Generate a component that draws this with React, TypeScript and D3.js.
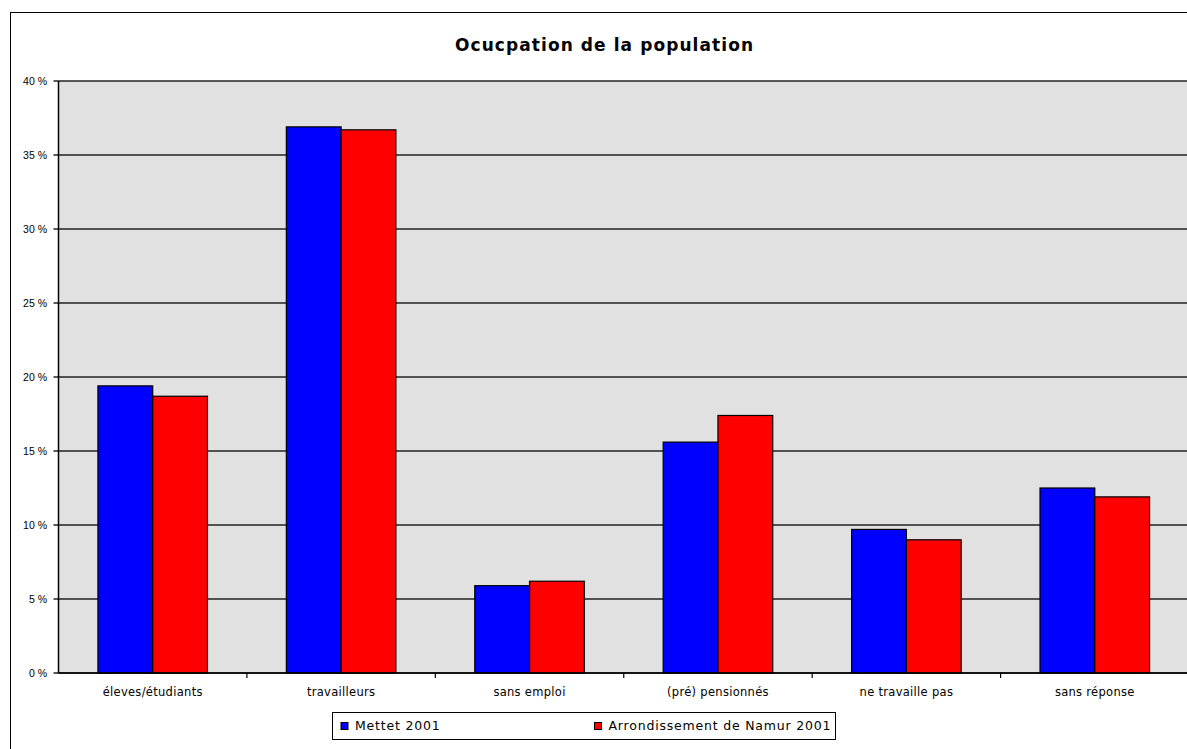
import React from 'react'
import * as d3 from 'd3'

const categories = ['éleves/étudiants', 'travailleurs', 'sans emploi', '(pré) pensionnés', 'ne travaille pas', 'sans réponse']
const seriesNames = ['Mettet 2001', 'Arrondissement de Namur 2001']
const mettet = [19.4, 36.9, 5.9, 15.6, 9.7, 12.5]
const namur = [18.7, 36.7, 6.2, 17.4, 9.0, 11.9]
const yTicks = [0, 5, 10, 15, 20, 25, 30, 35, 40]
const colors = ['#0000ff', '#ff0000']

const W = 1187
const H = 749
const plot = { left: 58.5, top: 81, bottom: 673, right: 1189 }

const App = () => {
    const series = [mettet, namur]

    const x = d3.scaleBand<string>()
        .domain(categories)
        .range([plot.left, plot.right])
        .paddingInner(0)
        .paddingOuter(0)

    const x1 = d3.scaleBand<string>()
        .domain(seriesNames)
        .range([0, x.bandwidth()])
        .paddingInner(0)
        .paddingOuter(0.72)

    const y = d3.scaleLinear()
        .domain([0, 40])
        .range([plot.bottom, plot.top])

    const font = 'DejaVu Sans, Verdana, sans-serif'

    return (
        <svg width={W} height={H} style={{ position: 'absolute', left: 0, top: 0, display: 'block' }}>
            <rect x={0} y={0} width={W} height={H} fill='#fff' />
            {/* outer chart border */}
            <rect x={10.5} y={12.5} width={W + 10} height={H + 10} fill='none' stroke='#000' strokeWidth={1} />

            <text x={604} y={51} textAnchor='middle' fontFamily={font} fontWeight='bold' fontSize={17}
                textLength={298} lengthAdjust='spacing'>
                Ocucpation de la population
            </text>

            {/* plot area */}
            <rect x={plot.left} y={plot.top} width={plot.right - plot.left} height={plot.bottom - plot.top} fill='#e1e1e1' />

            {/* grid + y ticks */}
            {yTicks.map(t => (
                <g key={t}>
                    <line x1={plot.left - 5} x2={plot.right} y1={y(t)} y2={y(t)} stroke='#222' strokeWidth={1.5} />
                    <text x={47} y={y(t)} dy='0.35em' textAnchor='end' fontFamily='Liberation Sans, Arial, sans-serif' fontSize={10.5}>
                        {t} %
                    </text>
                </g>
            ))}

            {/* bars */}
            {categories.map((c, i) => (
                <g key={c} transform={`translate(${x(c)}, 0)`}>
                    {seriesNames.map((s, j) => (
                        <rect
                            key={s}
                            x={x1(s)}
                            y={y(series[j][i])}
                            width={x1.bandwidth()}
                            height={y(0) - y(series[j][i])}
                            fill={colors[j]}
                            stroke='#000'
                            strokeWidth={1.2}
                        />
                    ))}
                </g>
            ))}

            {/* axes lines */}
            <line x1={plot.left} x2={plot.left} y1={plot.top} y2={plot.bottom} stroke='#000' strokeWidth={1.5} />
            <line x1={plot.left} x2={plot.right} y1={plot.bottom} y2={plot.bottom} stroke='#000' strokeWidth={1.5} />
            {categories.slice(1).map(c => (
                <line key={c} x1={x(c)} x2={x(c)} y1={plot.bottom} y2={plot.bottom + 5} stroke='#000' strokeWidth={1.2} />
            ))}

            {/* category labels */}
            {categories.map(c => (
                <text key={c} x={(x(c) as number) + x.bandwidth() / 2} y={692} dy='0.35em' textAnchor='middle' fontFamily={font} fontSize={11.5} letterSpacing={0.3}>
                    {c}
                </text>
            ))}

            {/* legend */}
            <rect x={332.5} y={712.5} width={503} height={27} fill='#fff' stroke='#000' strokeWidth={1} />
            {seriesNames.map((s, j) => {
                const lx = j === 0 ? 341 : 594.5
                return (
                    <g key={s}>
                        <rect x={lx} y={722.5} width={7} height={7} fill={colors[j]} stroke='#000' strokeWidth={1} />
                        <text x={lx + 14} y={726} dy='0.35em' fontFamily={font} fontSize={12.5} letterSpacing={0.8}>
                            {s}
                        </text>
                    </g>
                )
            })}
        </svg>
    )
}

export default App
